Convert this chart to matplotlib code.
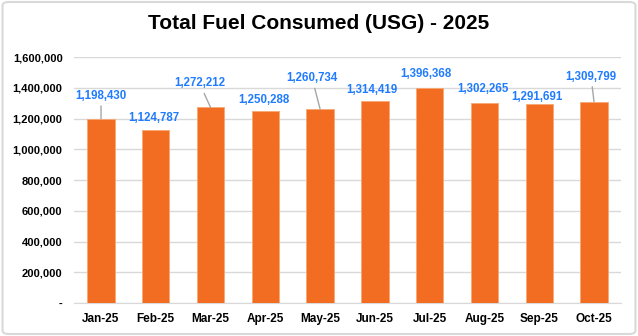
import matplotlib
matplotlib.use("Agg")
import matplotlib.pyplot as plt
import numpy as np
from matplotlib.patches import FancyBboxPatch
from matplotlib.ticker import FuncFormatter

months = ["Jan-25", "Feb-25", "Mar-25", "Apr-25", "May-25",
          "Jun-25", "Jul-25", "Aug-25", "Sep-25", "Oct-25"]
fuel = [1198430, 1124787, 1272212, 1250288, 1260734,
        1314419, 1396368, 1302265, 1291691, 1309799]
# label offsets from bar top (pixels), and whether a leader line is drawn
label_dx = [0, -2, -11, -1, -8, -3, -4, -2, -2, -3]
label_dy = [17, 6, 18, 5, 25, 5, 8, 8, 1, 19]
leader = [True, False, True, False, True, False, False, False, False, True]

fonts = ["Liberation Sans", "DejaVu Sans"]

fig = plt.figure(figsize=(6.38, 3.36), dpi=100)
ax = fig.add_axes([0.1154, 0.0982, 0.8586, 0.7320])

x = np.arange(len(months))
ax.bar(x, fuel, width=0.5, color="#F26D21", edgecolor="#F7A774", linewidth=0.6, zorder=3)

ax.set_ylim(0, 1600000)
ax.set_xlim(-0.5, len(months) - 0.5)
ax.set_yticks(np.arange(0, 1600001, 200000))
ax.yaxis.set_major_formatter(FuncFormatter(lambda v, p: "-" if v == 0 else f"{int(v):,}"))
ax.grid(axis="y", color="#D9D9D9", linewidth=1, zorder=0)
for s in ["top", "right", "left"]:
    ax.spines[s].set_visible(False)
ax.spines["bottom"].set_color("#D9D9D9")
ax.tick_params(axis="both", length=0)
ax.tick_params(axis="y", pad=8)
ax.tick_params(axis="x", pad=7)
ax.set_xticks(x)
ax.set_xticklabels(months, fontsize=8.5, fontweight="bold", family=fonts)
for t in ax.get_yticklabels():
    t.set_fontsize(8)
    t.set_fontweight("bold")
    t.set_family(fonts)

for i, v in enumerate(fuel):
    props = None
    if leader[i]:
        props = dict(arrowstyle="-", color="#A6A6A6", lw=1, shrinkA=1, shrinkB=0)
    ax.annotate(f"{v:,}", xy=(i, v), xytext=(label_dx[i], label_dy[i]),
                textcoords="offset pixels", ha="center", va="bottom",
                fontsize=8.3, fontweight="bold", color="#1F7BFF",
                family=fonts, arrowprops=props, zorder=4)

fig.text(0.5, 0.93, "Total Fuel Consumed (USG) - 2025", ha="center", va="center",
         fontsize=15, fontweight="bold", family=fonts)

border = FancyBboxPatch((0.004, 0.006), 0.992, 0.988, boxstyle="round,pad=0,rounding_size=0.01",
                        transform=fig.transFigure, fill=False, edgecolor="#D9D9D9", linewidth=1.5)
fig.patches.append(border)

fig.savefig("out.png", dpi=100)
